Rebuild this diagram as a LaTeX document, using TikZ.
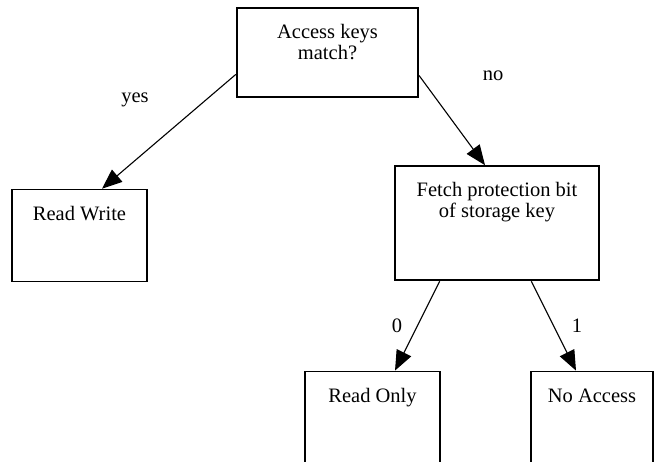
\documentclass[tikz,border=0pt]{standalone}
\usepackage{fontspec}
\setmainfont{Liberation Serif}
\usepackage{tikz}
\usetikzlibrary{arrows.meta,positioning}

\begin{document}
\begin{tikzpicture}[x=1pt, y=1pt,
box/.style={rectangle, draw=black, line width=1.4pt, inner sep=0pt, align=center, text height=31pt, font=\fontsize{20.5}{21}\selectfont},
lbl/.style={anchor=base, inner sep=0pt, font=\fontsize{20.5}{21}\selectfont},
arr/.style={-{Triangle[length=20pt, width=16pt]}, line width=1.1pt, shorten <=0.7pt}
]
\useasboundingbox (0,0) rectangle (655,-462);
% Decision tree
%Nodes
\node[box, minimum width=181pt, text height=52pt, text depth=37pt] (root) at (327.5,-52.5) {Access keys\\match?};
\node[box, minimum width=135pt, text depth=61pt]  (rw)    [below=91pt of root, xshift=-248pt] {Read Write};
\node[box, minimum width=204pt, text height=52pt, text depth=62pt] (fetch) [below=67.5pt of root, xshift=169.5pt] {Fetch protection bit\\of storage key};
\node[box, minimum width=135pt, text depth=90pt]  (ro)    [below=90pt of fetch, xshift=-124.5pt] {Read Only};
\node[box, minimum width=122pt, text depth=90pt]  (na)    [below=90pt of fetch, xshift=95pt]  {No Access};
%Labels
\node[lbl] (lyes) at (135,-103) {yes};
\node[lbl] (lno)  at (493,-81)  {no};
\node[lbl] (lzero) at (397,-332) {0};
\node[lbl] (lone) at (577,-332) {1};
%Lines
\draw[arr] ([yshift=-21.5pt]root.west) -- ([xshift=22.5pt]rw.north);
\draw[arr] ([yshift=-22.5pt]root.east) -- ([xshift=-12pt]fetch.north);
\draw[arr] ([xshift=-57pt]fetch.south) -- ([xshift=22.5pt]ro.north);
\draw[arr] ([xshift=34pt]fetch.south) -- ([xshift=-16pt]na.north);
\end{tikzpicture}
\end{document}
